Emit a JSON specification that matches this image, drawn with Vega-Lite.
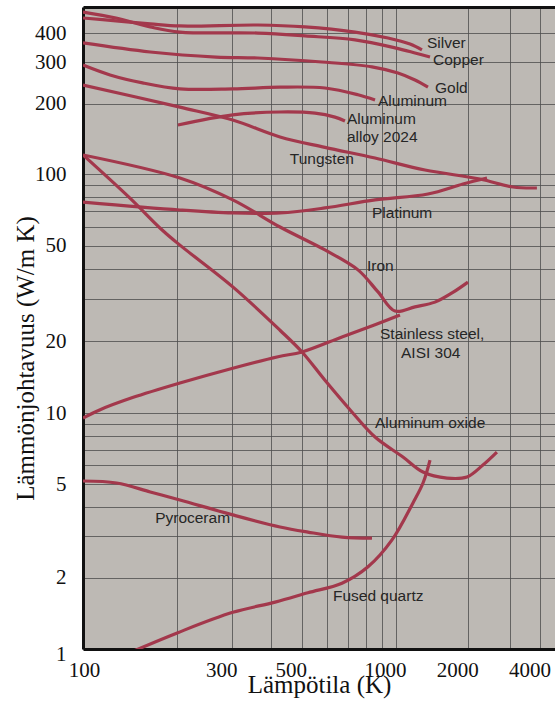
{
  "$schema": "https://vega.github.io/schema/vega-lite/v6.json",
  "width": 472,
  "height": 642,
  "autosize": "none",
  "padding": {"left": 83, "top": 7, "right": 0, "bottom": 59},
  "background": "white",
  "config": {"view": {"fill": "#bdb9b4", "stroke": null}},
  "datasets": {
    "curves": [
      {"material": "Silver", "T": 100, "k": 464}, {"material": "Silver", "T": 127.5, "k": 451}, {"material": "Silver", "T": 164, "k": 438}, {"material": "Silver", "T": 204, "k": 429}, {"material": "Silver", "T": 362, "k": 433}, {"material": "Silver", "T": 512, "k": 425}, {"material": "Silver", "T": 740, "k": 404}, {"material": "Silver", "T": 943, "k": 381}, {"material": "Silver", "T": 1144, "k": 359}, {"material": "Silver", "T": 1283, "k": 339},
      {"material": "Copper", "T": 100, "k": 492}, {"material": "Copper", "T": 127.5, "k": 464}, {"material": "Copper", "T": 164, "k": 425}, {"material": "Copper", "T": 204, "k": 404}, {"material": "Copper", "T": 362, "k": 400}, {"material": "Copper", "T": 512, "k": 389}, {"material": "Copper", "T": 740, "k": 374}, {"material": "Copper", "T": 993, "k": 346}, {"material": "Copper", "T": 1200, "k": 329}, {"material": "Copper", "T": 1386, "k": 316},
      {"material": "Gold", "T": 100, "k": 363}, {"material": "Gold", "T": 164, "k": 332}, {"material": "Gold", "T": 266, "k": 316}, {"material": "Gold", "T": 362, "k": 313}, {"material": "Gold", "T": 580, "k": 301}, {"material": "Gold", "T": 838, "k": 287}, {"material": "Gold", "T": 1019, "k": 270}, {"material": "Gold", "T": 1200, "k": 252}, {"material": "Gold", "T": 1359, "k": 235},
      {"material": "Aluminum", "T": 100, "k": 292}, {"material": "Aluminum", "T": 122, "k": 265}, {"material": "Aluminum", "T": 155, "k": 245}, {"material": "Aluminum", "T": 204, "k": 231}, {"material": "Aluminum", "T": 301, "k": 231}, {"material": "Aluminum", "T": 426, "k": 235}, {"material": "Aluminum", "T": 593, "k": 233}, {"material": "Aluminum", "T": 756, "k": 218}, {"material": "Aluminum", "T": 857, "k": 207},
      {"material": "Aluminum alloy 2024", "T": 201, "k": 162}, {"material": "Aluminum alloy 2024", "T": 301, "k": 179}, {"material": "Aluminum alloy 2024", "T": 426, "k": 184}, {"material": "Aluminum alloy 2024", "T": 551, "k": 182}, {"material": "Aluminum alloy 2024", "T": 638, "k": 175}, {"material": "Aluminum alloy 2024", "T": 687, "k": 168.5},
      {"material": "Tungsten", "T": 100, "k": 240}, {"material": "Tungsten", "T": 204, "k": 193}, {"material": "Tungsten", "T": 301, "k": 170}, {"material": "Tungsten", "T": 426, "k": 144}, {"material": "Tungsten", "T": 593, "k": 130}, {"material": "Tungsten", "T": 857, "k": 117}, {"material": "Tungsten", "T": 1321, "k": 104}, {"material": "Tungsten", "T": 2239, "k": 95.3}, {"material": "Tungsten", "T": 3074, "k": 88.2}, {"material": "Tungsten", "T": 3867, "k": 87.4},
      {"material": "Platinum", "T": 100, "k": 76.3}, {"material": "Platinum", "T": 204, "k": 70.7}, {"material": "Platinum", "T": 301, "k": 68.7}, {"material": "Platinum", "T": 426, "k": 68.7}, {"material": "Platinum", "T": 593, "k": 72.1}, {"material": "Platinum", "T": 857, "k": 77.9}, {"material": "Platinum", "T": 1359, "k": 82.5}, {"material": "Platinum", "T": 1902, "k": 90.8}, {"material": "Platinum", "T": 2395, "k": 96.2},
      {"material": "Iron", "T": 100, "k": 120.6}, {"material": "Iron", "T": 204, "k": 96.2}, {"material": "Iron", "T": 301, "k": 77.9}, {"material": "Iron", "T": 426, "k": 60.0}, {"material": "Iron", "T": 593, "k": 48.1}, {"material": "Iron", "T": 756, "k": 39.7}, {"material": "Iron", "T": 876, "k": 32.1}, {"material": "Iron", "T": 993, "k": 26.7}, {"material": "Iron", "T": 1200, "k": 27.8}, {"material": "Iron", "T": 1454, "k": 29.1}, {"material": "Iron", "T": 1712, "k": 31.8}, {"material": "Iron", "T": 1995, "k": 35.3},
      {"material": "Stainless steel, AISI 304", "T": 100, "k": 9.52}, {"material": "Stainless steel, AISI 304", "T": 113, "k": 10.3}, {"material": "Stainless steel, AISI 304", "T": 144, "k": 11.6}, {"material": "Stainless steel, AISI 304", "T": 204, "k": 13.35}, {"material": "Stainless steel, AISI 304", "T": 301, "k": 15.4}, {"material": "Stainless steel, AISI 304", "T": 420, "k": 17.2}, {"material": "Stainless steel, AISI 304", "T": 501, "k": 18.0}, {"material": "Stainless steel, AISI 304", "T": 672, "k": 20.8}, {"material": "Stainless steel, AISI 304", "T": 857, "k": 23.4}, {"material": "Stainless steel, AISI 304", "T": 1039, "k": 25.7},
      {"material": "Aluminum oxide", "T": 100, "k": 120.6}, {"material": "Aluminum oxide", "T": 141, "k": 79.4}, {"material": "Aluminum oxide", "T": 179, "k": 58.3}, {"material": "Aluminum oxide", "T": 204, "k": 50.4}, {"material": "Aluminum oxide", "T": 301, "k": 33.7}, {"material": "Aluminum oxide", "T": 426, "k": 22.2}, {"material": "Aluminum oxide", "T": 501, "k": 18.0}, {"material": "Aluminum oxide", "T": 593, "k": 13.7}, {"material": "Aluminum oxide", "T": 723, "k": 10.1}, {"material": "Aluminum oxide", "T": 857, "k": 7.91}, {"material": "Aluminum oxide", "T": 1069, "k": 6.51}, {"material": "Aluminum oxide", "T": 1296, "k": 5.62}, {"material": "Aluminum oxide", "T": 1631, "k": 5.30}, {"material": "Aluminum oxide", "T": 1977, "k": 5.36}, {"material": "Aluminum oxide", "T": 2303, "k": 6.02}, {"material": "Aluminum oxide", "T": 2634, "k": 6.83},
      {"material": "Fused quartz", "T": 145, "k": 0.98}, {"material": "Fused quartz", "T": 200, "k": 1.17}, {"material": "Fused quartz", "T": 301, "k": 1.43}, {"material": "Fused quartz", "T": 411, "k": 1.58}, {"material": "Fused quartz", "T": 523, "k": 1.73}, {"material": "Fused quartz", "T": 672, "k": 1.90}, {"material": "Fused quartz", "T": 814, "k": 2.23}, {"material": "Fused quartz", "T": 971, "k": 2.90}, {"material": "Fused quartz", "T": 1177, "k": 4.16}, {"material": "Fused quartz", "T": 1296, "k": 5.05}, {"material": "Fused quartz", "T": 1386, "k": 6.32},
      {"material": "Pyroceram", "T": 100, "k": 5.15}, {"material": "Pyroceram", "T": 128, "k": 5.05}, {"material": "Pyroceram", "T": 164, "k": 4.63}, {"material": "Pyroceram", "T": 204, "k": 4.28}, {"material": "Pyroceram", "T": 301, "k": 3.70}, {"material": "Pyroceram", "T": 426, "k": 3.29}, {"material": "Pyroceram", "T": 523, "k": 3.13}, {"material": "Pyroceram", "T": 672, "k": 2.98}, {"material": "Pyroceram", "T": 838, "k": 2.95}
    ],
    "labels": [
      {"label": "Silver", "T": 1346, "k": 362},
      {"label": "Copper", "T": 1426, "k": 307},
      {"label": "Gold", "T": 1454, "k": 233},
      {"label": "Aluminum", "T": 876, "k": 205},
      {"label": "Aluminum", "T": 697, "k": 172},
      {"label": "alloy 2024", "T": 697, "k": 144},
      {"label": "Tungsten", "T": 458, "k": 116},
      {"label": "Platinum", "T": 838, "k": 68.7},
      {"label": "Iron", "T": 808, "k": 41.2},
      {"label": "Stainless steel,", "T": 889, "k": 21.4},
      {"label": "AISI 304", "T": 1049, "k": 17.8},
      {"label": "Aluminum oxide", "T": 857, "k": 9.07},
      {"label": "Pyroceram", "T": 170, "k": 3.59},
      {"label": "Fused quartz", "T": 629, "k": 1.68}
    ]
  },
  "layer": [
    {
      "data": {"name": "curves"},
      "mark": {"type": "line", "interpolate": "catmull-rom", "color": "#a3384c", "strokeWidth": 3.2, "clip": true},
      "encoding": {
        "x": {
          "field": "T",
          "type": "quantitative",
          "scale": {"type": "log", "domain": [100, 1000, 4600], "range": [0, 313, 472], "nice": false, "zero": false},
          "axis": {
            "values": [100, 200, 300, 400, 500, 600, 700, 800, 900, 1000, 2000, 3000, 4000],
            "labelExpr": "indexof([100, 300, 500, 1000, 2000, 4000], datum.value) >= 0 ? toString(datum.value) : ''",
            "labelFont": "Liberation Serif",
            "labelFontSize": 21,
            "labelColor": "#111111",
            "labelBaseline": "top",
            "labelPadding": 10,
            "labelOffset": {"condition": {"test": "datum.value == 100", "value": 1}, "value": -11},
            "labelFlush": false,
            "labelOverlap": false,
            "ticks": false,
            "grid": true,
            "gridColor": "#4d4d4d",
            "gridWidth": 1,
            "gridOpacity": 0.8,
            "domainColor": "#111111",
            "domainWidth": 3,
            "title": "Lämpötila (K)",
            "titleFont": "Liberation Serif",
            "titleFontSize": 25,
            "titleFontWeight": "normal",
            "titleColor": "#111111",
            "titleBaseline": "alphabetic",
            "titleY": 43
          }
        },
        "y": {
          "field": "k",
          "type": "quantitative",
          "scale": {"type": "log", "domain": [1, 10, 100, 517], "range": [642, 406, 167, 0], "nice": false, "zero": false},
          "axis": {
            "values": [1, 2, 3, 4, 5, 6, 7, 8, 9, 10, 20, 30, 40, 50, 60, 70, 80, 90, 100, 200, 300, 400],
            "labelExpr": "indexof([1, 2, 5, 10, 20, 50, 100, 200, 300, 400], datum.value) >= 0 ? toString(datum.value) : ''",
            "labelFont": "Liberation Serif",
            "labelFontSize": 21,
            "labelColor": "#111111",
            "labelPadding": 17,
            "labelOffset": {"condition": {"test": "datum.value == 1", "value": 5}, "value": 0},
            "labelFlush": false,
            "labelOverlap": false,
            "ticks": false,
            "grid": true,
            "gridColor": "#4d4d4d",
            "gridWidth": 1,
            "gridOpacity": 0.8,
            "domainColor": "#111111",
            "domainWidth": 3,
            "title": "Lämmönjohtavuus (W/m K)",
            "titleFont": "Liberation Serif",
            "titleFontSize": 25,
            "titleFontWeight": "normal",
            "titleColor": "#111111",
            "titleAngle": 270,
            "titleAlign": "center",
            "titleBaseline": "middle",
            "titleX": -58,
            "titleY": 351
          }
        },
        "detail": {"field": "material"}
      }
    },
    {
      "data": {"name": "labels"},
      "mark": {"type": "text", "align": "left", "baseline": "middle", "font": "Liberation Sans", "fontSize": 15.5, "color": "#262626"},
      "encoding": {
        "x": {
          "field": "T",
          "type": "quantitative",
          "axis": {"orient": "top", "labels": false, "ticks": false, "grid": false, "title": null, "domainColor": "#111111", "domainWidth": 3, "zindex": 1}
        },
        "y": {"field": "k", "type": "quantitative"},
        "text": {"field": "label"}
      }
    }
  ],
  "resolve": {"axis": {"x": "independent"}}
}
